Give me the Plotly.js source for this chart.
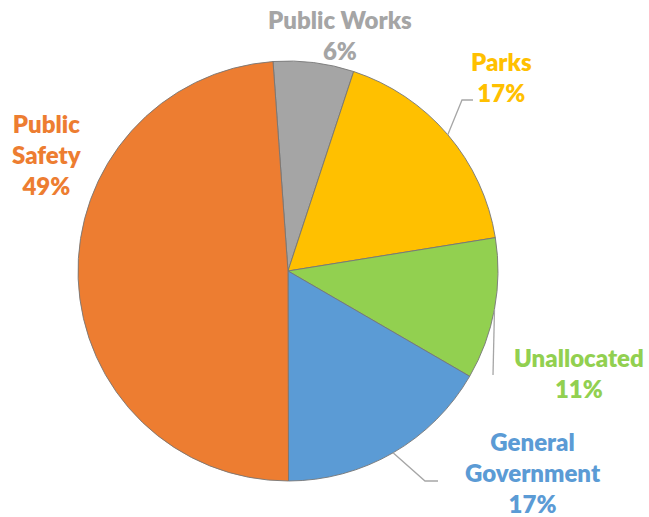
<!DOCTYPE html>
<html>
<head>
<meta charset="utf-8">
<script src="https://cdn.plot.ly/plotly-3.0.1.min.js"></script>
<style>html,body{margin:0;padding:0;background:#fff;}#chart{width:649px;height:517px;}</style>
</head>
<body>
<div id="chart"></div>
<script>
// Data (clockwise from just left of 12 o'clock)
var categories = ["Public Works", "Parks", "Unallocated", "General Government", "Public Safety"];
var shares = [6.2, 17.4, 10.9, 16.6, 48.9];
var labelText = ["Public Works<br>6%", "Parks<br>17%", "Unallocated<br>11%", "General<br>Government<br>17%", "Public<br>Safety<br>49%"];
var colors = ["#A5A5A5", "#FFC000", "#92D050", "#5B9BD5", "#ED7D31"];

var W = 649, H = 517;
var cx = 288, cy = 271, R = 210;
var startAngle = -4.1;

function px(x){ return x / W; }
function py(y){ return 1 - y / H; }

// label placements (pixel centers) and leader-line bends
var labelPos = [[340, 35], [501, 77], [579, 373], [533, 472], [47, 155]];
var leaderBend = [null, [[462, 100], [473, 100]], [[493, 375]], [[425, 481], [438, 481]], null];

// compute slice mid angles from data
var total = shares.reduce(function(a,b){return a+b;}, 0);
var acc = startAngle;
var mids = shares.map(function(v){
  var a0 = acc; acc += v / total * 360; return (a0 + acc) / 2;
});

var annotations = categories.map(function(c, i){
  return {
    x: px(labelPos[i][0]), y: py(labelPos[i][1]), xref: 'paper', yref: 'paper',
    xanchor: 'center', yanchor: 'middle', showarrow: false, align: 'center',
    text: labelText[i],
    font: {family: 'Lato, "Open Sans", sans-serif', size: 24, color: colors[i], weight: 800}
  };
});

var shapes = [];
categories.forEach(function(c, i){
  if (!leaderBend[i]) return;
  var a = mids[i] * Math.PI / 180;
  var pts = [[cx + R * Math.sin(a), cy - R * Math.cos(a)]].concat(leaderBend[i]);
  var path = 'M ' + pts.map(function(p){ return px(p[0]) + ',' + py(p[1]); }).join(' L ');
  shapes.push({type: 'path', xref: 'paper', yref: 'paper', path: path,
    line: {color: '#A6A6A6', width: 1.3}});
});

var trace = {
  type: 'pie',
  labels: categories,
  values: shares,
  sort: false,
  direction: 'clockwise',
  rotation: startAngle,
  marker: {colors: colors, line: {color: '#767676', width: 0.9}},
  textinfo: 'none',
  hoverinfo: 'none',
  showlegend: false,
  domain: {x: [px(cx - R), px(cx + R)], y: [py(cy + R), py(cy - R)]}
};

var layout = {
  width: W, height: H,
  margin: {l: 0, r: 0, t: 0, b: 0},
  paper_bgcolor: '#ffffff',
  showlegend: false,
  annotations: annotations,
  shapes: shapes
};

Plotly.newPlot('chart', [trace], layout, {displayModeBar: false, staticPlot: true});
</script>
</body>
</html>
